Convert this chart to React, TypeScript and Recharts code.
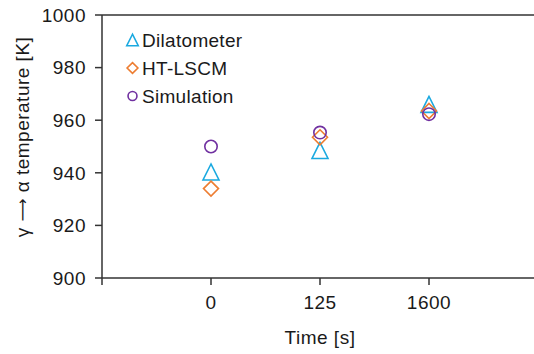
import { ReferenceLine, Scatter, ScatterChart, XAxis, YAxis } from "recharts";

const timeLabels = ["", "0", "125", "1600"];
const timeIndex = [1, 2, 3];
const dilatometer = [940.3, 948.5, 966];
const htLscm = [934, 953.5, 963.5];
const simulation = [950, 955.3, 962.3];
const yTicks = [900, 920, 940, 960, 980, 1000];

const FONT = "'Liberation Sans', Arial, sans-serif";
const AXIS = "#333333";
const TEXT = "#1a1a1a";
const FS = 19;
const LS = 0.5;

const seriesInfo = [
  { name: "Dilatometer", color: "#1aa9e0", kind: "triangle", values: dilatometer },
  { name: "HT-LSCM", color: "#ed7d31", kind: "diamond", values: htLscm },
  { name: "Simulation", color: "#7030a0", kind: "circle", values: simulation },
];

function Marker({ kind, cx, cy, color, scale = 1 }: { kind: string; cx: number; cy: number; color: string; scale?: number }) {
  if (kind === "triangle") {
    const h = 16 * scale;
    const w = 16 * scale;
    return (
      <polygon
        points={`${cx},${cy - h / 2} ${cx - w / 2},${cy + h / 2} ${cx + w / 2},${cy + h / 2}`}
        fill="none"
        stroke={color}
        strokeWidth={1.6}
      />
    );
  }
  if (kind === "diamond") {
    const r = 7.5 * scale;
    return (
      <polygon
        points={`${cx},${cy - r} ${cx + r},${cy} ${cx},${cy + r} ${cx - r},${cy}`}
        fill="none"
        stroke={color}
        strokeWidth={1.6}
      />
    );
  }
  return <circle cx={cx} cy={cy} r={6.2 * scale} fill="none" stroke={color} strokeWidth={1.6} />;
}

function LegendOverlay() {
  return (
    <svg width={534} height={354} style={{ position: "absolute", left: 0, top: 0, pointerEvents: "none" }}>
      {seriesInfo.map((s, i) => (
        <g key={s.name}>
          <Marker kind={s.kind} cx={132.5} cy={40 + i * 28} color={s.color} scale={0.72} />
          <text
            x={142}
            y={40 + i * 28}
            dominantBaseline="central"
            fontFamily={FONT}
            fontSize={FS}
            letterSpacing={0.3}
            fill={TEXT}
          >
            {s.name}
          </text>
        </g>
      ))}
    </svg>
  );
}

const tickStyle = { fill: TEXT, fontSize: FS, fontFamily: FONT, letterSpacing: LS };

export default function App() {
  return (
    <div style={{ position: "absolute", left: 0, top: 0, width: 534, height: 354, overflow: "hidden", background: "#fff" }}>
      <ScatterChart width={538} height={354} margin={{ top: 15, right: 0, bottom: 0, left: 0 }}>
        <XAxis
          type="number"
          dataKey="x"
          domain={[0, 4]}
          ticks={[0, 1, 2, 3]}
          tickFormatter={(v: number) => timeLabels[v]}
          stroke={AXIS}
          strokeWidth={1.5}
          tickSize={7}
          tickMargin={11}
          tick={tickStyle}
          height={76}
          label={{ value: "Time [s]", position: "insideBottom", offset: 10, fill: TEXT, fontSize: FS, fontFamily: FONT, letterSpacing: LS }}
        />
        <YAxis
          type="number"
          dataKey="y"
          domain={[900, 1000]}
          ticks={yTicks}
          stroke={AXIS}
          strokeWidth={1.5}
          tickSize={7}
          tickMargin={9}
          tick={tickStyle}
          width={102}
          label={{
            content: () => (
              <text
                x={22}
                y={137}
                transform="rotate(-90, 22, 137)"
                textAnchor="middle"
                dominantBaseline="central"
                fontFamily={FONT}
                fontSize={FS}
                letterSpacing={LS}
                fill={TEXT}
              >
                γ <tspan fontFamily="'DejaVu Sans'" fontSize={16}>⟶</tspan> α temperature [K]
              </text>
            ),
          }}
        />
        <ReferenceLine y={1000} stroke={AXIS} strokeWidth={1.5} />
        {seriesInfo.map((s) => (
          <Scatter
            key={s.name}
            name={s.name}
            data={timeIndex.map((x, i) => ({ x, y: s.values[i] }))}
            isAnimationActive={false}
            shape={(p: any) => <Marker kind={s.kind} cx={p.cx} cy={p.cy} color={s.color} />}
          />
        ))}
      </ScatterChart>
      <LegendOverlay />
    </div>
  );
}
